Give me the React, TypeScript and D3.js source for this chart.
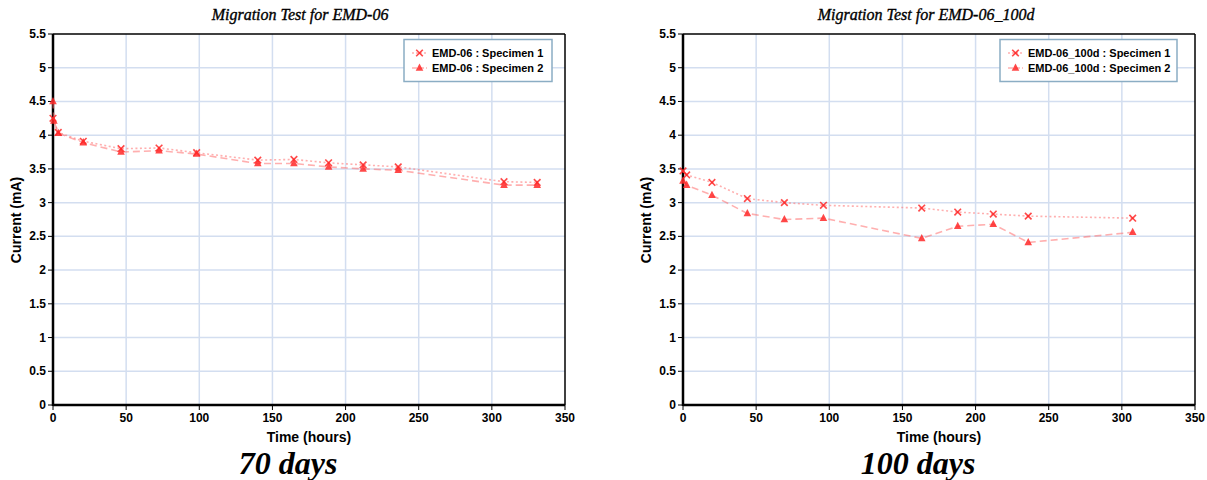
import React from "react";
import * as d3 from "d3";

const xTicks = [0, 50, 100, 150, 200, 250, 300, 350];
const yTicks = [0, 0.5, 1, 1.5, 2, 2.5, 3, 3.5, 4, 4.5, 5, 5.5];

// Left chart: EMD-06 (70 days)
const leftS1Time = [0, 3.6, 20.7, 46.5, 72.5, 98.2, 140, 164.7, 188.4, 212, 236, 308.3, 331];
const leftS1Current = [4.25, 4.04, 3.91, 3.8, 3.81, 3.74, 3.63, 3.64, 3.59, 3.56, 3.53, 3.31, 3.3];
const leftS2Time = [0, 0.6, 3.6, 20.7, 46.5, 72.5, 98.2, 140, 164.7, 188.4, 212, 236, 308.3, 331];
const leftS2Current = [4.5, 4.21, 4.03, 3.89, 3.75, 3.77, 3.72, 3.58, 3.58, 3.53, 3.5, 3.48, 3.26, 3.26];

// Right chart: EMD-06_100d (100 days)
const rightS1Time = [0, 2.5, 19.8, 44, 69.3, 96, 163.2, 187.8, 212.1, 236, 307.4];
const rightS1Current = [3.47, 3.41, 3.3, 3.06, 3.0, 2.96, 2.92, 2.86, 2.83, 2.8, 2.77];
const rightS2Time = [0, 2.5, 19.8, 44, 69.3, 96, 163.2, 187.8, 212.1, 236, 307.4];
const rightS2Current = [3.32, 3.26, 3.11, 2.84, 2.75, 2.77, 2.47, 2.65, 2.68, 2.41, 2.56];

const titles = ["Migration Test for EMD-06", "Migration Test for EMD-06_100d"];
const captions = ["70 days", "100 days"];
const legendNames = [
  ["EMD-06 : Specimen 1", "EMD-06 : Specimen 2"],
  ["EMD-06_100d : Specimen 1", "EMD-06_100d : Specimen 2"],
];

const SANS = "'Liberation Sans', Arial, sans-serif";
const SERIF = "'Liberation Serif', 'Times New Roman', serif";
const LINE = "rgba(255,110,110,0.55)";
const MARK = "rgba(255,40,40,0.85)";

type Pt = [number, number];

function zip(t: number[], v: number[]): Pt[] {
  return t.map((x, i) => [x, v[i]] as Pt);
}

function Cross({ x, y }: { x: number; y: number }) {
  const s = 3.3;
  return (
    <g stroke={MARK} strokeWidth={1.6}>
      <line x1={x - s} y1={y - s} x2={x + s} y2={y + s} />
      <line x1={x - s} y1={y + s} x2={x + s} y2={y - s} />
    </g>
  );
}

function Tri({ x, y }: { x: number; y: number }) {
  return (
    <g>
      <path d={`M${x},${y - 4.5} L${x + 3.8},${y + 2.8} L${x - 3.8},${y + 2.8} Z`} fill={MARK} />
    </g>
  );
}

function Panel({
  x0,
  x1,
  s1,
  s2,
  title,
  titleX,
  caption,
  captionX,
  legend,
  legendX,
  legendW,
  yLabelX,
}: {
  x0: number;
  x1: number;
  s1: Pt[];
  s2: Pt[];
  title: string;
  titleX: number;
  caption: string;
  captionX: number;
  legend: string[];
  legendX: number;
  legendW: number;
  yLabelX: number;
}) {
  const top = 34;
  const bottom = 405;
  const x = d3.scaleLinear().domain([0, 350]).range([x0, x1]);
  const y = d3.scaleLinear().domain([0, 5.5]).range([bottom, top]);
  const line = d3
    .line<Pt>()
    .x((d) => x(d[0]))
    .y((d) => y(d[1]));
  const midX = (x0 + x1) / 2;
  return (
    <g>
      <text
        x={titleX}
        y={20}
        textAnchor="middle"
        fontFamily={SERIF}
        fontStyle="italic"
        fontSize={16}
        stroke="#000"
        strokeWidth={0.35}
      >
        {title}
      </text>
      {/* grid */}
      {xTicks.slice(1, -1).map((t) => (
        <line key={"gx" + t} x1={x(t)} x2={x(t)} y1={top} y2={bottom} stroke="#d3def0" strokeWidth={1.5} />
      ))}
      {yTicks.slice(1, -1).map((t) => (
        <line key={"gy" + t} x1={x0} x2={x1} y1={y(t)} y2={y(t)} stroke="#d3def0" strokeWidth={1.5} />
      ))}
      {/* frame */}
      <line x1={x0} x2={x1} y1={top} y2={top} stroke="#000" strokeWidth={1.5} />
      <line x1={x1} x2={x1} y1={top} y2={bottom} stroke="#000" strokeWidth={1.5} />
      <line x1={x0} x2={x0} y1={top} y2={bottom + 1} stroke="#000" strokeWidth={2.5} />
      <line x1={x0} x2={x1} y1={bottom} y2={bottom} stroke="#000" strokeWidth={2.5} />
      {/* ticks */}
      {yTicks.map((t) => (
        <g key={"ty" + t}>
          <line x1={x0 - 5} x2={x0} y1={y(t)} y2={y(t)} stroke="#000" strokeWidth={1} />
          <text x={x0 - 7} y={y(t) + 4} textAnchor="end" fontFamily={SANS} fontWeight="bold" fontSize={12} fill="#000">
            {String(t)}
          </text>
        </g>
      ))}
      {xTicks.map((t) => (
        <g key={"tx" + t}>
          <line x1={x(t)} x2={x(t)} y1={bottom} y2={bottom + 5} stroke="#000" strokeWidth={1} />
          <text x={x(t)} y={bottom + 17} textAnchor="middle" fontFamily={SANS} fontWeight="bold" fontSize={12} fill="#000">
            {String(t)}
          </text>
        </g>
      ))}
      <text x={midX} y={442} textAnchor="middle" fontFamily={SANS} fontWeight="bold" fontSize={14} fill="#000">
        Time (hours)
      </text>
      <text
        transform={`translate(${yLabelX},220) rotate(-90)`}
        textAnchor="middle"
        fontFamily={SANS}
        fontWeight="bold"
        fontSize={14}
        fill="#000"
      >
        Current (mA)
      </text>
      {/* series */}
      <path d={line(s1) || ""} fill="none" stroke={LINE} strokeWidth={1.6} strokeDasharray="2,2.5" />
      <path d={line(s2) || ""} fill="none" stroke={LINE} strokeWidth={1.6} strokeDasharray="7,4" />
      {s1.map((d, i) => (
        <Cross key={"a" + i} x={x(d[0])} y={y(d[1])} />
      ))}
      {s2.map((d, i) => (
        <Tri key={"b" + i} x={x(d[0])} y={y(d[1])} />
      ))}
      {/* legend */}
      <rect x={legendX} y={39.5} width={legendW} height={42} fill="#fff" stroke="#8badc4" strokeWidth={1.5} />
      {legend.map((name, i) => {
        const ly = 53 + i * 15;
        return (
          <g key={name}>
            <line
              x1={legendX + 8}
              x2={legendX + 23}
              y1={ly}
              y2={ly}
              stroke={LINE}
              strokeWidth={1.5}
              strokeDasharray={i === 0 ? "2,2" : "5,2"}
            />
            {i === 0 ? <Cross x={legendX + 15.5} y={ly} /> : <Tri x={legendX + 15.5} y={ly} />}
            <text x={legendX + 28} y={ly + 4} fontFamily={SANS} fontWeight="bold" fontSize={11} fill="#000">
              {name}
            </text>
          </g>
        );
      })}
      <text x={captionX} y={474} textAnchor="middle" fontFamily={SERIF} fontStyle="italic" fontWeight="bold" fontSize={32}>
        {caption}
      </text>
    </g>
  );
}

export default function App() {
  return (
    <div style={{ position: "absolute", left: 0, top: 0 }}>
      <svg width={1207} height={480} style={{ display: "block", background: "#fff" }}>
        <Panel
          x0={53}
          x1={565}
          s1={zip(leftS1Time, leftS1Current)}
          s2={zip(leftS2Time, leftS2Current)}
          title={titles[0]}
          titleX={300}
          caption={captions[0]}
          captionX={288}
          legend={legendNames[0]}
          legendX={404}
          legendW={148}
          yLabelX={21}
        />
        <Panel
          x0={683}
          x1={1195}
          s1={zip(rightS1Time, rightS1Current)}
          s2={zip(rightS2Time, rightS2Current)}
          title={titles[1]}
          titleX={926}
          caption={captions[1]}
          captionX={918}
          legend={legendNames[1]}
          legendX={1000}
          legendW={177}
          yLabelX={651}
        />
      </svg>
    </div>
  );
}
